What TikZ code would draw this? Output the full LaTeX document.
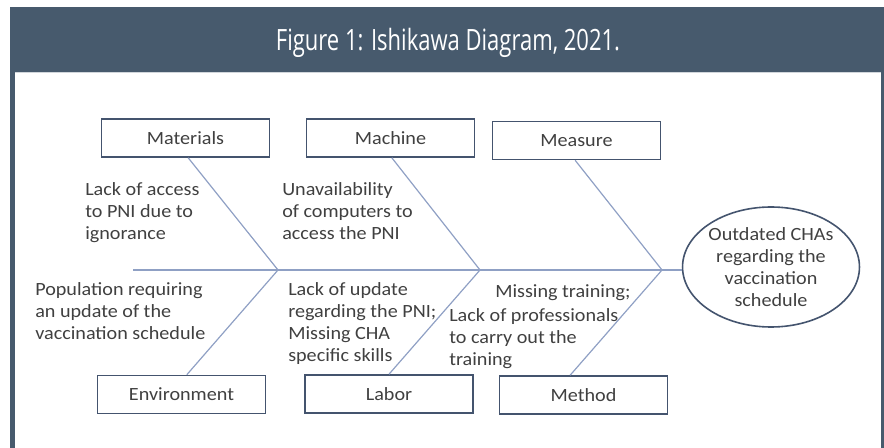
\documentclass[tikz,border=0pt]{standalone}
\usepackage{fontspec}
\setmainfont[FakeStretch=1.08]{Carlito}
\newfontfamily\titlefont[FakeStretch=0.75]{Open Sans}
\usetikzlibrary{shapes.geometric}

\definecolor{headbg}{RGB}{71,90,109}
\definecolor{boxline}{RGB}{68,84,110}
\definecolor{bone}{RGB}{143,160,196}
\definecolor{txt}{RGB}{64,64,64}

\begin{document}
\begin{tikzpicture}[
		x=0.75pt, y=-0.75pt,
		every node/.style={font=\fontsize{14}{16.5}\selectfont, text=txt},
		cat/.style={rectangle, draw=boxline, line width=1.2pt, fill=white, minimum width=126pt, minimum height=28.5pt, inner sep=0pt},
		cause/.style={anchor=north west, align=left, inner sep=0pt},
		bonez/.style={draw=bone, line width=0.9pt}
	]
	\useasboundingbox (0,0) rectangle (884,448);

	% frame and title bar
	\fill[headbg] (10,448) rectangle (15,72);
	\fill[headbg] (881,448) rectangle (884,72);
	\fill[headbg] (10,7) rectangle (884,72);
	\draw[white!75!headbg, line width=0.8pt] (15,72.5) -- (881,72.5);
	\node[text=white, font=\titlefont\fontsize{22}{26}\selectfont] (title) at (448,43) {Figure 1: Ishikawa Diagram, 2021.};

	% spine and joints
	\coordinate (tail) at (133,270);
	\coordinate (j1) at (278,270);
	\coordinate (j2) at (480,270);
	\coordinate (j3) at (662,270);

	\node[ellipse, draw=boxline, line width=1.2pt, minimum width=129pt, minimum height=90pt, align=center, inner sep=0pt] (effect) at (771,267)
		{Outdated CHAs\\regarding the\\vaccination\\schedule};

	\node[cat] (mat) at (185.5,138) {Materials};
	\node[cat] (mach) at (390.5,138) {Machine};
	\node[cat] (meas) at (576.5,140.5) {Measure};
	\node[cat] (env) at (181.5,394.5) {Environment};
	\node[cat] (lab) at (389,394) {Labor};
	\node[cat] (meth) at (583.5,395) {Method};

	\draw[bonez] (tail) -- (tail -| effect.west);
	\draw[bonez] ([xshift=2pt]mat.south) -- (j1) -- ([xshift=4pt]env.north);
	\draw[bonez] ([xshift=1pt]mach.south) -- (j2) -- (lab.north);
	\draw[bonez] ([xshift=-1pt]meas.south) -- (j3) -- ([xshift=-10pt]meth.north);

	% causes
	\node[cause] (c1) at (85,182) {Lack of access\\to PNI due to\\ignorance};
	\node[cause] (c2) at (282,182) {Unavailability\\of computers to\\access the PNI};
	\node[cause] (c3) at (35,282) {Population requiring\\an update of the\\vaccination schedule};
	\node[cause] (c4) at (288,282) {Lack of update\\regarding the PNI;\\Missing CHA\\specific skills};
	\node[cause] (c5) at (495,284) {Missing training;};
	\node[cause] (c6) at (449,308) {Lack of professionals\\to carry out the\\training};
\end{tikzpicture}
\end{document}
